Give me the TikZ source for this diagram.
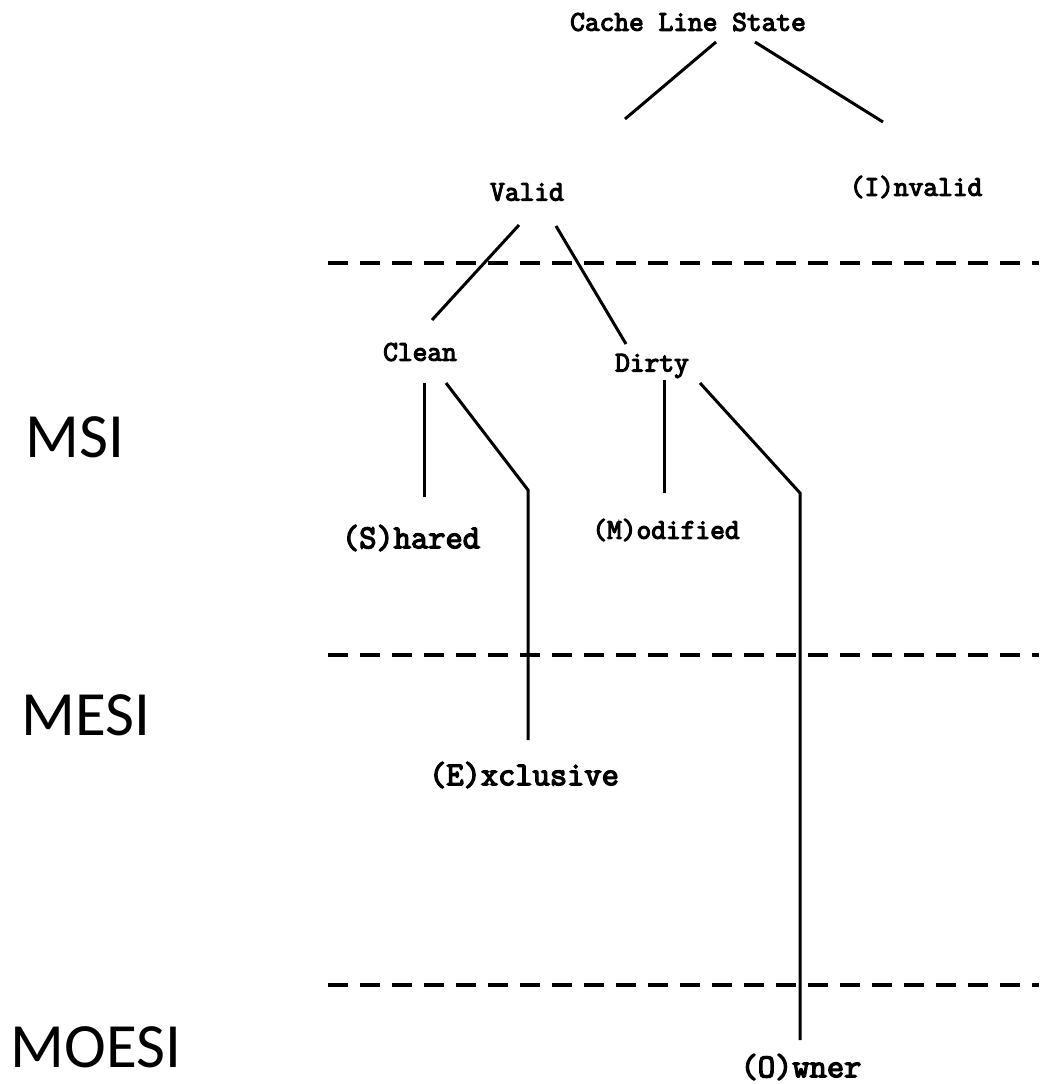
\documentclass[tikz,border=0pt]{standalone}
\usepackage{fontspec}
\newfontfamily\courfont[AutoFakeBold=4]{Latin Modern Mono}
\newfontfamily\sidefont{Carlito}
\begin{document}
\begin{tikzpicture}[x=1pt,y=-1pt,
  st/.style={font=\courfont\bfseries\fontsize{28.6}{32}\selectfont, inner sep=0pt},
  stb/.style={font=\courfont\bfseries\fontsize{33.5}{38}\selectfont, inner sep=0pt},
  proto/.style={font=\sidefont\fontsize{63}{70}\selectfont, inner sep=0pt},
  edge/.style={line width=3pt},
  sep/.style={line width=4pt, dash pattern=on 20pt off 12pt}]
\useasboundingbox[fill=white] (0,0) rectangle (1039,1084);
% state labels
\node[st]  (cls)   at (688,22)  {Cache Line State};
\node[st]  (valid) at (527,192) {Valid};
\node[st]  (inv)   at (916,187) {(I)nvalid};
\node[st]  (clean) at (420,352) {Clean};
\node[st]  (dirty) at (652,366) {Dirty};
\node[stb] (sh)    at (411,538) {(S)hared};
\node[st]  (mod)   at (666,530) {(M)odified};
\node[stb] (ex)    at (524,775) {(E)xclusive};
\node[stb] (own)   at (801,1067) {(O)wner};
% protocol labels
\node[proto] (msi)   at (75,437)  {MSI};
\node[proto] (mesi)  at (86,715)  {MESI};
\node[proto] (moesi) at (96,1047) {MOESI};
% connector end points
\coordinate (c1a) at (716,42);  \coordinate (c1b) at (625,119);
\coordinate (c2a) at (755,42);  \coordinate (c2b) at (883,122);
\coordinate (v1a) at (519,225); \coordinate (v1b) at (432,320);
\coordinate (v2a) at (556,226); \coordinate (v2b) at (626,344);
\coordinate (k1a) at (424,383); \coordinate (k1b) at (424,497);
\coordinate (k2a) at (446,383); \coordinate (k2m) at (528,490); \coordinate (k2b) at (528,740);
\coordinate (d1a) at (664,380); \coordinate (d1b) at (664,493);
\coordinate (d2a) at (700,383); \coordinate (d2m) at (800,493); \coordinate (d2b) at (800,1040);
% connectors
\draw[edge] (c1a) -- (c1b);
\draw[edge] (c2a) -- (c2b);
\draw[edge] (v1a) -- (v1b);
\draw[edge] (v2a) -- (v2b);
\draw[edge] (k1a) -- (k1b);
\draw[edge] (k2a) -- (k2m) -- (k2b);
\draw[edge] (d1a) -- (d1b);
\draw[edge] (d2a) -- (d2m) -- (d2b);
% separators
\coordinate (s1a) at (328,263); \coordinate (s1b) at (1039,263);
\coordinate (s2a) at (328,655); \coordinate (s2b) at (1039,655);
\coordinate (s3a) at (328,985); \coordinate (s3b) at (1039,985);
\draw[sep] (s1a) -- (s1b);
\draw[sep] (s2a) -- (s2b);
\draw[sep] (s3a) -- (s3b);
\end{tikzpicture}
\end{document}
